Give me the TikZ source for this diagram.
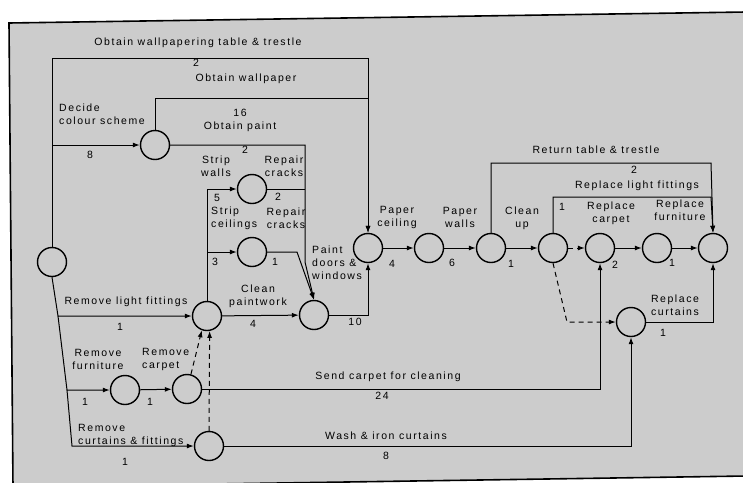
\documentclass[tikz,border=0pt]{standalone}
\usepackage{fontspec}
\setmainfont{Liberation Sans}[LetterSpace=15]
\usetikzlibrary{arrows.meta}
\begin{document}
\begin{tikzpicture}[x=1pt,y=-1pt,
  ev/.style={circle,draw,line width=1.4pt,minimum size=29pt,inner sep=0pt},
  lab/.style={font=\fontsize{10.5}{13}\selectfont,inner sep=0pt,align=center},
  labl/.style={lab,align=left,anchor=west},
  ln/.style={line width=1pt},
  act/.style={line width=1pt,-{Latex[length=7pt,width=5pt]}},
  dum/.style={line width=1pt,dash pattern=on 5pt off 4pt,-{Latex[length=7pt,width=5pt]}}]
\useasboundingbox (0,0) rectangle (743,482);
\fill[white] (0,0) rectangle (743,482);
\draw[fill=black!20,line width=1.6pt] (9,23) -- (746,12) -- (746,476) -- (13,487) -- cycle;
% events
\node[ev] (A) at (52,262) {};
\node[ev] (B) at (155,145) {};
\node[ev] (C) at (252,189) {};
\node[ev] (D) at (252,252) {};
\node[ev] (E) at (207,316) {};
\node[ev] (F) at (314,315) {};
\node[ev] (G) at (368,248) {};
\node[ev] (H) at (429,248) {};
\node[ev] (I) at (491,248) {};
\node[ev] (J) at (553,248) {};
\node[ev] (K) at (600,248) {};
\node[ev] (L) at (657,248) {};
\node[ev] (M) at (713,248) {};
\node[ev] (N) at (631,322) {};
\node[ev] (O) at (125,390) {};
\node[ev] (P) at (187,389) {};
\node[ev] (Q) at (209,446) {};
% helper coordinates
\coordinate (t1) at (368,58);
\coordinate (t2) at (368,98);
\coordinate (ab) at (52,145);
\coordinate (p1) at (305,145);
\coordinate (p2) at (305,262);
\coordinate (d1) at (297,252);
\coordinate (s1) at (58,316);
\coordinate (s2) at (67,390);
\coordinate (s3) at (72,446);
\coordinate (e1) at (207,189);
\coordinate (e2) at (207,252);
\coordinate (r1) at (711,163);
\coordinate (r2) at (711,197);
\coordinate (j1) at (567,322);
% activities
\draw[act] (A.north) |- (t1) -- (G.north);
\draw[act] (B.north) |- (t2) -- (G.north);
\draw[act] (ab) -- (B.west);
\draw[act] (B.east) -- (p1) -- (p2) -- (F.north);
\draw[ln] (C.east) -- (C.east -| p1);
\draw[act] (D.east) -- (d1) -- (F.north);
\draw[act] (A.south) -- (s1) -- (E.west);
\draw[act] (s1) -- (s2) -- (O.west);
\draw[act] (s2) -- (s3) -- (Q.west);
\draw[act] (O) -- (P);
\draw[dum] (P.75) -- (E.250);
\draw[dum] (Q.north) -- (E.280);
\draw[act] (E.north) -- (e1) -- (C.west);
\draw[act] (e2) -- (D.west);
\draw[act] (E) -- (F);
\draw[act] (F.east) -| (G.south);
\draw[act] (G) -- (H);
\draw[act] (H) -- (I);
\draw[act] (I) -- (J);
\draw[dum] (J) -- (K);
\draw[act] (K) -- (L);
\draw[act] (L) -- (M);
\draw[act] (I.north) |- (r1) -- (M.north);
\draw[act] (J.north) |- (r2) -- (M.north);
\draw[dum] (J.south) -- (j1) -- (N.west);
\draw[act] (P.east) -| (K.south);
\draw[act] (Q.east) -| (N.south);
\draw[act] (N.east) -| (M.south);
% labels
\node[lab] (l1) at (198,43) {Obtain wallpapering table \& trestle};
\node[lab] (l2) at (196,63) {2};
\node[lab] (l3) at (246,79) {Obtain wallpaper};
\node[labl] (l4) at (59,114) {Decide\\colour scheme};
\node[lab] (l5) at (240,113) {16};
\node[lab] (l6) at (240,127) {Obtain paint};
\node[lab] (l7) at (90,155) {8};
\node[lab] (l8) at (245,150) {2};
\node[lab] (l9) at (216,166) {Strip\\walls};
\node[lab] (l10) at (284,166) {Repair\\cracks};
\node[lab] (l11) at (278,197) {2};
\node[lab] (l12) at (217,198) {5};
\node[labl] (l13) at (211,218) {Strip\\ceilings};
\node[lab] (l14) at (286,218) {Repair\\cracks};
\node[lab] (l15) at (215,262) {3};
\node[lab] (l16) at (275,262) {1};
\node[labl] (l17) at (312,263) {Paint\\doors \&\\windows};
\node[lab] (l18) at (126,302) {Remove light fittings};
\node[lab] (l19) at (258,296) {Clean\\paintwork};
\node[lab] (l20) at (120,327) {1};
\node[lab] (l21) at (253,324) {4};
\node[lab] (l22) at (355,322) {10};
\node[lab] (l23) at (98,359) {Remove\\furniture};
\node[labl] (l24) at (142,359) {Remove\\carpet};
\node[lab] (l25) at (85,402) {1};
\node[lab] (l26) at (150,402) {1};
\node[lab] (l27) at (388,377) {Send carpet for cleaning};
\node[lab] (l28) at (382,396) {24};
\node[labl] (l29) at (78,435) {Remove\\curtains \& fittings};
\node[lab] (l30) at (125,462) {1};
\node[lab] (l31) at (386,436) {Wash \& iron curtains};
\node[lab] (l32) at (386,456) {8};
\node[lab] (l33) at (397,217) {Paper\\ceiling};
\node[lab] (l34) at (392,264) {4};
\node[lab] (l35) at (460,217) {Paper\\walls};
\node[lab] (l36) at (452,263) {6};
\node[lab] (l37) at (522,218) {Clean\\up};
\node[lab] (l38) at (511,264) {1};
\node[lab] (l39) at (596,150) {Return table \& trestle};
\node[lab] (l40) at (634,170) {2};
\node[lab] (l41) at (637,186) {Replace light fittings};
\node[lab] (l42) at (562,207) {1};
\node[lab] (l43) at (611,213) {Replace\\carpet};
\node[lab] (l44) at (615,265) {2};
\node[lab] (l45) at (680,210) {Replace\\furniture};
\node[lab] (l46) at (672,263) {1};
\node[lab] (l47) at (675,305) {Replace\\curtains};
\node[lab] (l48) at (663,333) {1};
\end{tikzpicture}
\end{document}
